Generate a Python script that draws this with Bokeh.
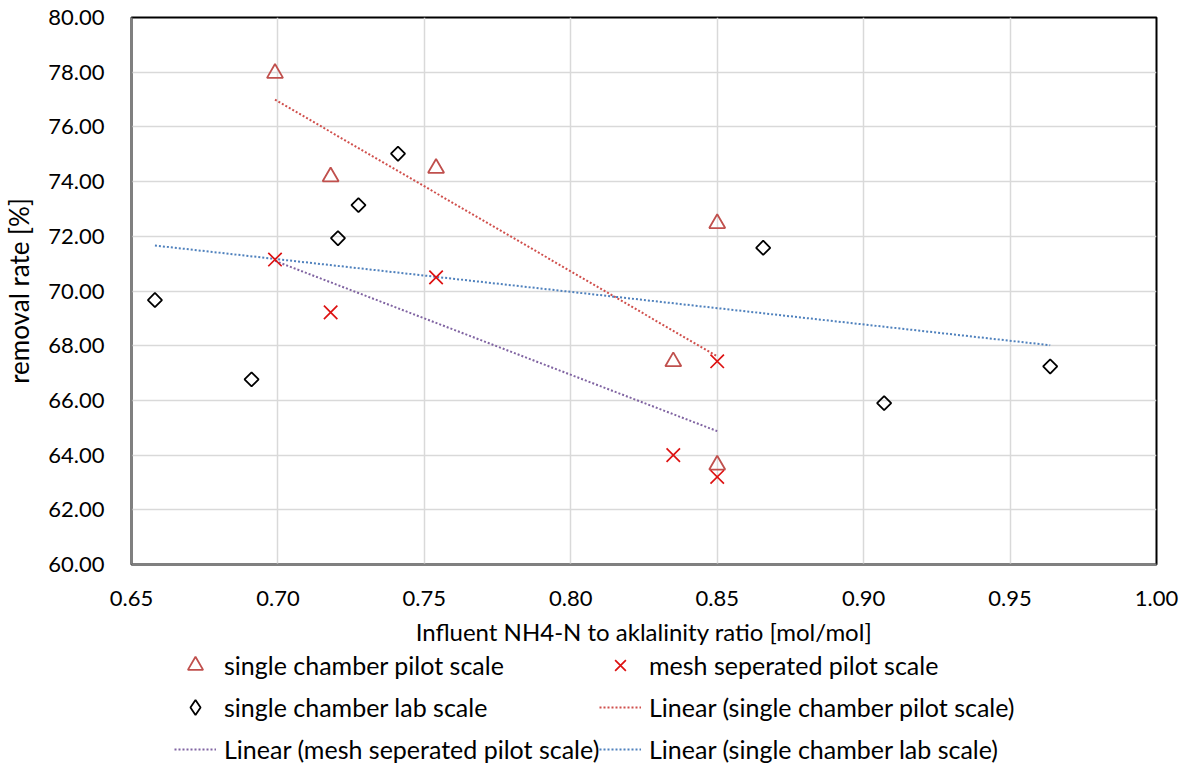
import numpy as np
from bokeh.plotting import figure
from bokeh.layouts import column
from bokeh.models import Legend, LegendItem, FixedTicker, NumeralTickFormatter, Range1d
from bokeh.embed import file_html
from bokeh.resources import INLINE

# Removal rate vs. influent NH4-N / alkalinity ratio for three reactor set-ups
pilot_x = [0.699, 0.718, 0.754, 0.850, 0.835, 0.850]
pilot_y = [77.96, 74.18, 74.49, 72.47, 67.42, 63.64]

mesh_x = [0.699, 0.718, 0.754, 0.835, 0.850, 0.850]
mesh_y = [71.15, 69.22, 70.50, 64.00, 67.43, 63.20]

lab_x = [0.658, 0.691, 0.7205, 0.7275, 0.741, 0.8657, 0.907, 0.9637]
lab_y = [69.67, 66.77, 71.93, 73.14, 75.02, 71.58, 65.90, 67.24]

x_ticks = [0.65, 0.70, 0.75, 0.80, 0.85, 0.90, 0.95, 1.00]
y_ticks = [60, 62, 64, 66, 68, 70, 72, 74, 76, 78, 80]

FONT = "Lato"
RED_TRI = "#c0504d"
RED_X = "#dd1111"
TREND_PILOT = "#d0504d"
TREND_MESH = "#8064a2"
TREND_LAB = "#4f81bd"
DASH = "2 2"

TRI = dict(marker="triangle", size=16, fill_color=None, line_color=RED_TRI, line_width=1.8)
XMK = dict(marker="x", size=19, line_color=RED_X, line_width=1.7)
DIA = dict(marker="square", angle=np.pi / 4, size=10, fill_color=None,
           line_color="black", line_width=1.8)
# legend swatches ignore the marker angle, so the key uses a diamond marker
DIA_KEY = dict(marker="diamond", size=15, fill_color=None,
               line_color="black", line_width=1.8)


def trend(xs, ys):
    """Least-squares linear trendline spanning the series' x extent."""
    k, d = np.polyfit(xs, ys, 1)
    tx = np.array([min(xs), max(xs)])
    return tx, k * tx + d


p = figure(
    width=1189, height=650,
    output_backend="svg", toolbar_location=None,
    x_range=Range1d(x_ticks[0], x_ticks[-1]),
    y_range=Range1d(y_ticks[0], y_ticks[-1]),
    min_border_left=130, min_border_right=33,
    min_border_top=17, min_border_bottom=86,
    background_fill_color="white", border_fill_color="white",
)

p.outline_line_color = "black"
p.outline_line_width = 2

# grid
p.xgrid.ticker = FixedTicker(ticks=x_ticks)
p.ygrid.ticker = FixedTicker(ticks=y_ticks)
for g in (p.xgrid, p.ygrid):
    g.grid_line_color = "#d9d9d9"
    g.grid_line_width = 1.5

# axes
for ax, ticks in ((p.xaxis, x_ticks), (p.yaxis, y_ticks)):
    ax.ticker = FixedTicker(ticks=ticks)
    ax.formatter = NumeralTickFormatter(format="0.00")
    ax.axis_line_color = "#808080"
    ax.axis_line_width = 2
    ax.major_tick_line_color = None
    ax.minor_tick_line_color = None
    ax.major_label_text_font = FONT
    ax.major_label_text_font_size = "22px"
    ax.major_label_text_color = "black"
    ax.axis_label_text_font = FONT
    ax.axis_label_text_font_style = "normal"
    ax.axis_label_text_color = "black"

p.xaxis.axis_label = "Influent NH4-N to aklalinity ratio [mol/mol]"
p.xaxis.axis_label_text_font_size = "24px"
p.xaxis.major_label_standoff = 20
p.xaxis.axis_label_standoff = 8

p.yaxis.axis_label = "removal rate [%]"
p.yaxis.axis_label_text_font_size = "26px"
p.yaxis.major_label_standoff = 21
p.yaxis.axis_label_standoff = 10

# trendlines
tpx, tpy = trend(pilot_x, pilot_y)
tmx, tmy = trend(mesh_x, mesh_y)
tlx, tly = trend(lab_x, lab_y)

p.line(tpx, tpy, line_color=TREND_PILOT, line_width=2, line_dash=DASH)
p.line(tmx, tmy, line_color=TREND_MESH, line_width=2, line_dash=DASH)
p.line(tlx, tly, line_color=TREND_LAB, line_width=2, line_dash=DASH)

# data points
p.scatter(pilot_x, pilot_y, **TRI)
p.scatter(mesh_x, mesh_y, **XMK)
p.scatter(lab_x, lab_y, **DIA)

# legend strip below the chart (two columns); its key glyphs sit outside
# the strip's visible range so only the legend swatches show
lg = figure(
    width=1189, height=114, output_backend="svg", toolbar_location=None,
    x_range=Range1d(0, 1), y_range=Range1d(0, 1),
    x_axis_type=None, y_axis_type=None, min_border=0,
    outline_line_color=None, background_fill_color="white", border_fill_color="white",
)
lg.grid.visible = False
off = ([-10, -9], [-10, -9])
k_tri = lg.scatter(*off, **TRI)
k_x = lg.scatter(*off, **XMK)
k_dia = lg.scatter(*off, **DIA_KEY)
k_tp = lg.line(*off, line_color=TREND_PILOT, line_width=2, line_dash=DASH)
k_tm = lg.line(*off, line_color=TREND_MESH, line_width=2, line_dash=DASH)
k_tl = lg.line(*off, line_color=TREND_LAB, line_width=2, line_dash=DASH)

common = dict(
    orientation="vertical",
    glyph_width=42, glyph_height=38, label_height=38,
    label_standoff=8, spacing=4, padding=0, margin=0,
    label_text_font=FONT, label_text_font_size="25px", label_text_color="black",
    border_line_color=None, background_fill_alpha=0,
)
leg_left = Legend(items=[
    LegendItem(label="single chamber pilot scale", renderers=[k_tri]),
    LegendItem(label="single chamber lab scale", renderers=[k_dia]),
    LegendItem(label="Linear (mesh seperated pilot scale)", renderers=[k_tm]),
], location=(43, -4), **common)
leg_right = Legend(items=[
    LegendItem(label="mesh seperated pilot scale", renderers=[k_x]),
    LegendItem(label="Linear (single chamber pilot scale)", renderers=[k_tp]),
    LegendItem(label="Linear (single chamber lab scale)", renderers=[k_tl]),
], location=(468, -4), **common)
lg.add_layout(leg_left, "center")
lg.add_layout(leg_right, "center")

layout = column(p, lg, spacing=0)
open("out.html", "w").write(file_html(layout, INLINE))
